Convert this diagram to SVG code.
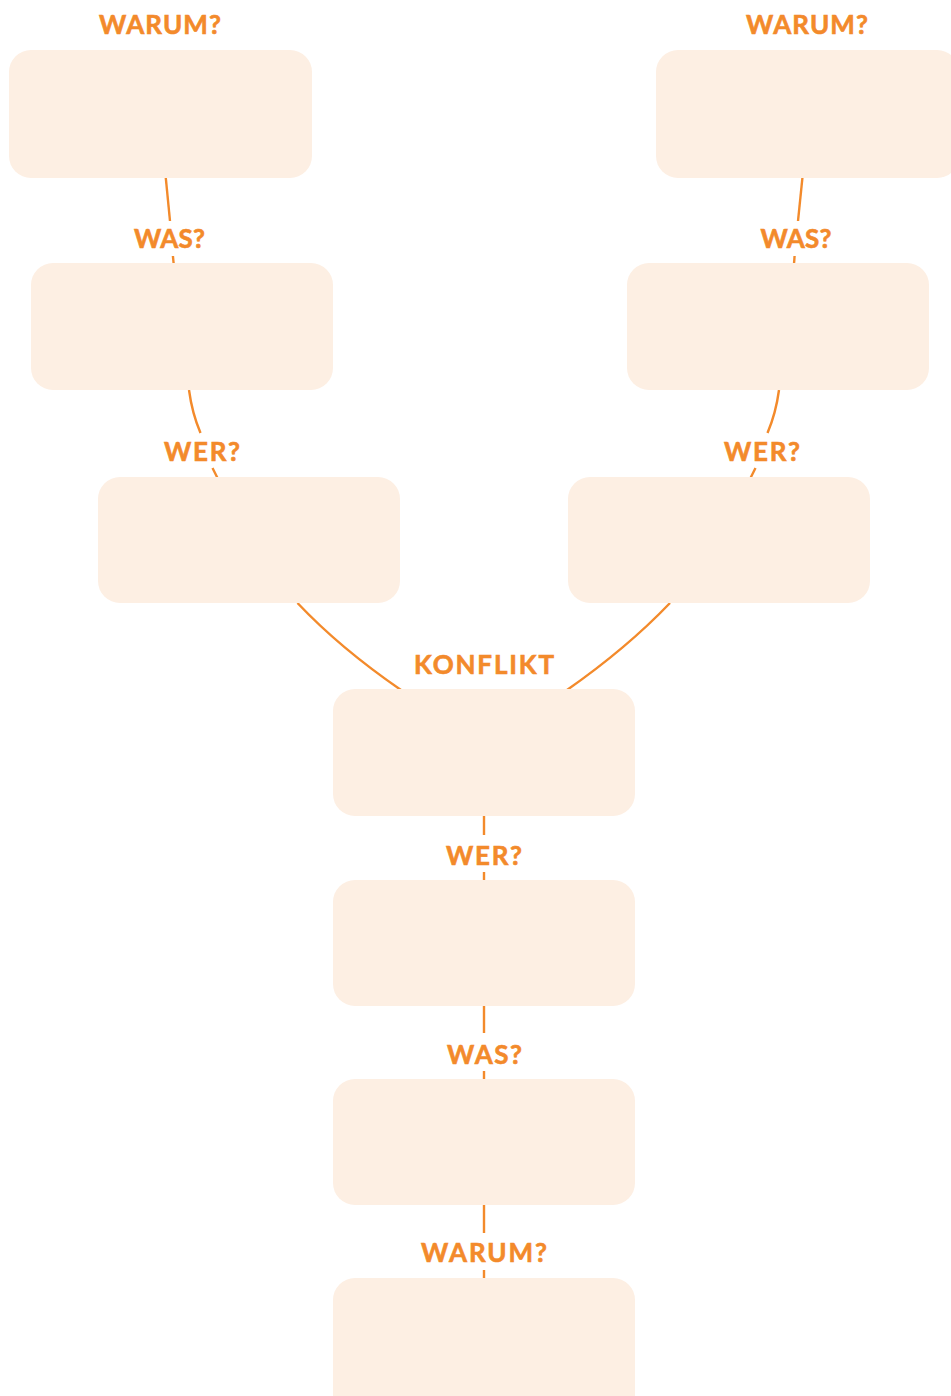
<svg xmlns="http://www.w3.org/2000/svg" width="951" height="1396" viewBox="0 0 951 1396">
<style>
.box{fill:#FDEFE3}
.lbl{font-family:Lato,"Liberation Sans",sans-serif;font-weight:700;font-size:26px;fill:#F38A2B;stroke:#F38A2B;stroke-width:0.6;text-anchor:middle}
.con{stroke:#F38A2B;stroke-width:2.4;fill:none}
</style>
<rect width="951" height="1396" fill="#FFFFFF"/>
<g id="connectors">
<path class="con" d="M165.7,177 L170,221"/>
<path class="con" d="M172.9,256 L173.7,264"/>
<path class="con" d="M802.5,177 L798,221"/>
<path class="con" d="M794.6,256 L794,264"/>
<path class="con" d="M189,390 C191,405 195,420 200.5,433"/>
<path class="con" d="M212.5,468 L217.5,478"/>
<path class="con" d="M779,390 C777,405 773,420 767.5,433"/>
<path class="con" d="M755.5,468 L750.5,478"/>
<path class="con" d="M297.5,603 Q340,648 401,690"/>
<path class="con" d="M670,603 Q627,648 567,690"/>
<path class="con" d="M484,816 L484,835"/>
<path class="con" d="M484,872 L484,881"/>
<path class="con" d="M484,1006 L484,1033"/>
<path class="con" d="M484,1071 L484,1080"/>
<path class="con" d="M484,1205 L484,1233"/>
<path class="con" d="M484,1270 L484,1279"/>
</g>
<g id="n-warum-left"><text class="lbl" x="160" y="34" textLength="122" lengthAdjust="spacing">WARUM?</text><rect class="box" x="9" y="50" width="303" height="128" rx="22"/></g>
<g id="n-warum-right"><text class="lbl" x="807" y="34" textLength="122" lengthAdjust="spacing">WARUM?</text><rect class="box" x="656" y="50" width="303" height="128" rx="22"/></g>
<g id="n-was-left"><text class="lbl" x="169.5" y="248" textLength="71" lengthAdjust="spacing">WAS?</text><rect class="box" x="31" y="263" width="302" height="127" rx="22"/></g>
<g id="n-was-right"><text class="lbl" x="796" y="248" textLength="71" lengthAdjust="spacing">WAS?</text><rect class="box" x="627" y="263" width="302" height="127" rx="22"/></g>
<g id="n-wer-left"><text class="lbl" x="202" y="461" textLength="76" lengthAdjust="spacing">WER?</text><rect class="box" x="98" y="477" width="302" height="126" rx="22"/></g>
<g id="n-wer-right"><text class="lbl" x="762" y="461" textLength="76" lengthAdjust="spacing">WER?</text><rect class="box" x="568" y="477" width="302" height="126" rx="22"/></g>
<g id="n-konflikt"><text class="lbl" x="484" y="674" textLength="140" lengthAdjust="spacing">KONFLIKT</text><rect class="box" x="333" y="689" width="302" height="127" rx="22"/></g>
<g id="n-wer-center"><text class="lbl" x="484" y="865" textLength="76" lengthAdjust="spacing">WER?</text><rect class="box" x="333" y="880" width="302" height="126" rx="22"/></g>
<g id="n-was-center"><text class="lbl" x="484.5" y="1064" textLength="75" lengthAdjust="spacing">WAS?</text><rect class="box" x="333" y="1079" width="302" height="126" rx="22"/></g>
<g id="n-warum-center"><text class="lbl" x="484" y="1262" textLength="126" lengthAdjust="spacing">WARUM?</text><rect class="box" x="333" y="1278" width="302" height="140" rx="22"/></g>
</svg>
